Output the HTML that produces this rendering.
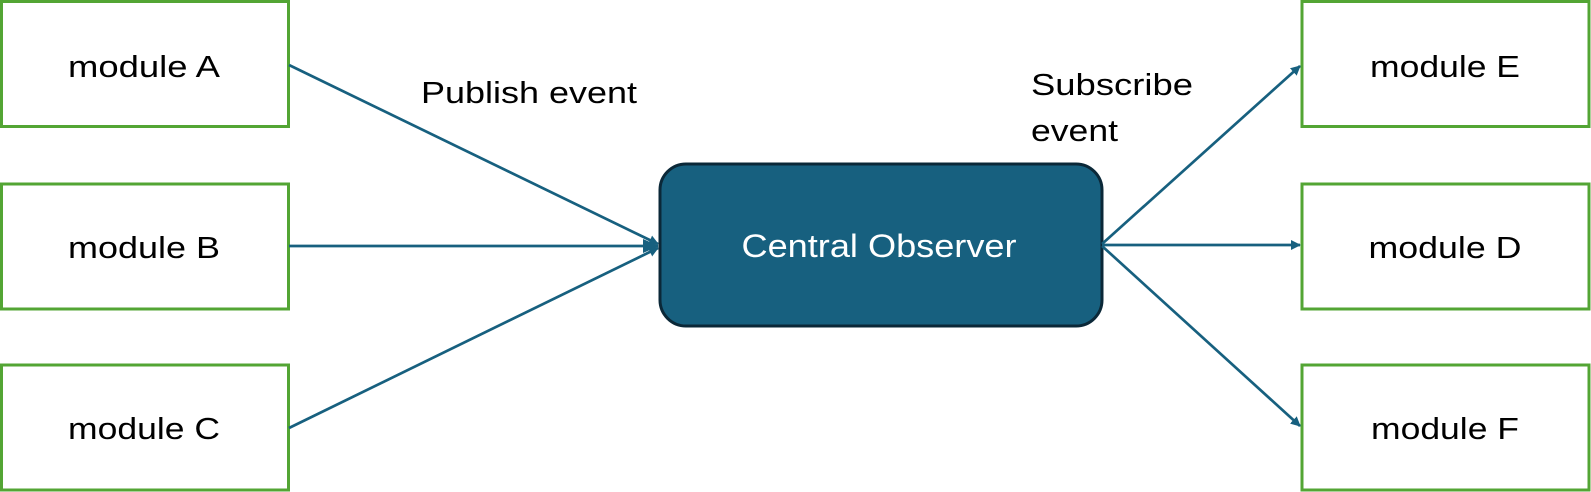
<!DOCTYPE html>
<html><head><meta charset="utf-8"><style>
html,body{margin:0;padding:0;background:#fff;}
svg{display:block;}
text{font-family:"Liberation Sans",sans-serif;}
</style></head><body>
<svg width="1591" height="492" viewBox="0 0 1591 492" xmlns="http://www.w3.org/2000/svg">
<defs>
<marker id="ah" markerWidth="10" markerHeight="10" refX="9" refY="5" orient="auto" markerUnits="userSpaceOnUse">
<path d="M0,0 L10,5 L0,10 z" fill="#17607f"/>
</marker>
<marker id="ah2" markerWidth="16" markerHeight="14" refX="15" refY="7" orient="auto" markerUnits="userSpaceOnUse">
<path d="M0,0 L16,7 L0,14 z" fill="#17607f"/>
</marker>
</defs>
<g fill="#fff" stroke="#53a534" stroke-width="3">
<rect x="1.5" y="1.5" width="287" height="125"/>
<rect x="1.5" y="184" width="287" height="125"/>
<rect x="1.5" y="365" width="287" height="125"/>
<rect x="1302" y="1.5" width="287" height="125"/>
<rect x="1302" y="184" width="287" height="125"/>
<rect x="1302" y="365" width="287" height="125"/>
</g>
<rect x="660" y="164" width="442" height="162" rx="26" ry="26" fill="#17607f" stroke="#0b2838" stroke-width="3"/>
<g stroke="#17607f" stroke-width="2.7" fill="none">
<line x1="289" y1="65" x2="658" y2="244" marker-end="url(#ah)"/>
<line x1="289" y1="246" x2="658" y2="246" marker-end="url(#ah2)"/>
<line x1="289" y1="428" x2="658" y2="248" marker-end="url(#ah)"/>
<line x1="1102" y1="244" x2="1300" y2="66" marker-end="url(#ah)"/>
<line x1="1102" y1="245" x2="1300" y2="245" marker-end="url(#ah)"/>
<line x1="1102" y1="246" x2="1300" y2="426" marker-end="url(#ah)"/>
</g>
<g font-size="31" fill="#000" text-anchor="middle">
<text x="144" y="77" textLength="152" lengthAdjust="spacingAndGlyphs">module A</text>
<text x="144" y="258" textLength="152" lengthAdjust="spacingAndGlyphs">module B</text>
<text x="144" y="439" textLength="152" lengthAdjust="spacingAndGlyphs">module C</text>
<text x="1445" y="77" textLength="150" lengthAdjust="spacingAndGlyphs">module E</text>
<text x="1445" y="258" textLength="153" lengthAdjust="spacingAndGlyphs">module D</text>
<text x="1445" y="439" textLength="148" lengthAdjust="spacingAndGlyphs">module F</text>
</g>
<g font-size="31" fill="#000">
<text x="421" y="103" textLength="216" lengthAdjust="spacingAndGlyphs">Publish event</text>
<text x="1031" y="95" textLength="162" lengthAdjust="spacingAndGlyphs">Subscribe</text>
<text x="1031" y="141" textLength="87" lengthAdjust="spacingAndGlyphs">event</text>
</g>
<text x="879" y="257" font-size="32" fill="#fff" text-anchor="middle" textLength="275" lengthAdjust="spacingAndGlyphs">Central Observer</text>
</svg>
</body></html>
